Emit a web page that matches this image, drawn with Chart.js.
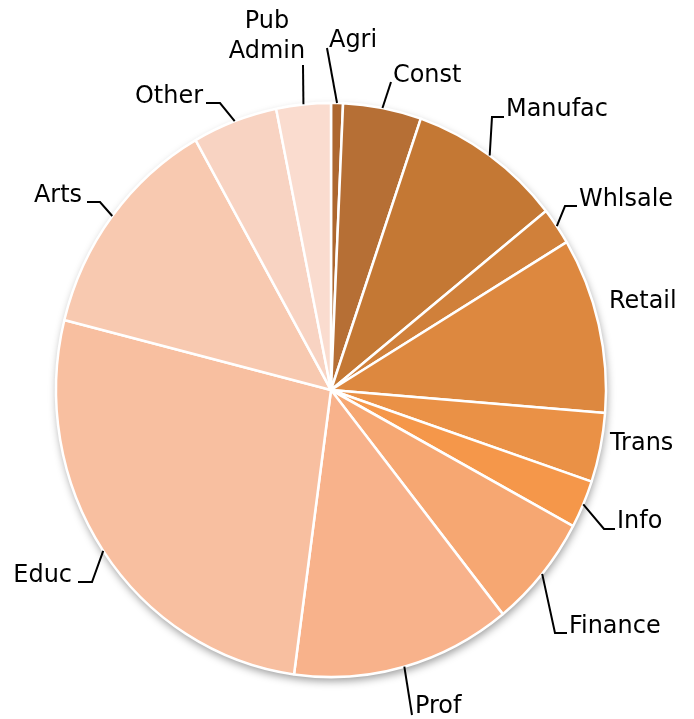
<!DOCTYPE html>
<html>
<head>
<meta charset="utf-8">
<script src="https://cdn.jsdelivr.net/npm/chart.js@4/dist/chart.umd.min.js"></script>
<style>
  html, body { margin: 0; padding: 0; background: #fff; }
  #wrap { position: relative; width: 694px; height: 719px; }
</style>
</head>
<body>
<div id="wrap"><canvas id="pie" width="694" height="719"></canvas></div>
<script>
// Employment share by industry (%), clockwise from 12 o'clock.
const industries = ["Agri", "Const", "Manufac", "Whlsale", "Retail", "Trans", "Info",
                    "Finance", "Prof", "Educ", "Arts", "Other", "Pub Admin"];
const shares = [0.7, 4.6, 9.0, 2.1, 9.9, 3.9, 2.7, 6.4, 12.9, 26.8, 12.9, 5.0, 3.2];

// Dark brown through orange to pale peach.
const sliceColors = ["#ad672f", "#b66f35", "#c47834", "#d0803a", "#dd883f", "#ea9146",
                     "#f5974a", "#f6a772", "#f8b28b", "#f8bfa0", "#f8c9b0", "#f8d3c2", "#fadccf"];

// Label placement: text anchor + leader-line bend (null = no leader).
const labelLayout = {
  "Agri":      { x: 329, y: 47,  align: "left",  path: [[327, 48]] },
  "Const":     { x: 393, y: 82,  align: "left",  path: [[391, 82]] },
  "Manufac":   { x: 506, y: 116, align: "left",  path: [[492, 117], [504, 117]] },
  "Whlsale":   { x: 579, y: 206, align: "left",  path: [[565, 206], [577, 206]] },
  "Retail":    { x: 609, y: 308, align: "left",  path: null },
  "Trans":     { x: 610, y: 450, align: "left",  path: null },
  "Info":      { x: 617, y: 528, align: "left",  path: [[604, 529], [615, 529]] },
  "Finance":   { x: 569, y: 633, align: "left",  path: [[555, 633], [567, 633]] },
  "Prof":      { x: 415, y: 713, align: "left",  path: [[412, 715]] },
  "Educ":      { x: 72,  y: 582, align: "right", path: [[92, 582], [78, 582]] },
  "Arts":      { x: 82,  y: 202, align: "right", path: [[100, 202], [87, 202]] },
  "Other":     { x: 203, y: 103, align: "right", path: [[220, 103], [206, 103]] },
  "Pub Admin": { x: 267, y: 28,  align: "center", lines: ["Pub", "Admin"], path: [[303, 65]] },
};

// The whole chart is a bit narrower than tall: pie is an ellipse and
// the label glyphs are squeezed by the same amount.
const STRETCH_Y = 1.044;
const TEXT_SQUEEZE = 1 / STRETCH_Y;

// Squash the arcs into a tall ellipse and lay a soft shadow underneath.
const ellipsePie = {
  id: "ellipsePie",
  beforeDatasetsDraw(chart) {
    const arc = chart.getDatasetMeta(0).data[0];
    const { x, y, outerRadius } = arc.getProps(["x", "y", "outerRadius"], true);
    const ctx = chart.ctx;
    ctx.save();
    ctx.save();
    ctx.shadowColor = "rgba(0,0,0,0.4)";
    ctx.shadowBlur = 8;
    ctx.shadowOffsetY = 4;
    ctx.shadowOffsetX = 1;
    ctx.fillStyle = "#fff";
    ctx.beginPath();
    ctx.ellipse(x, y, outerRadius, outerRadius * STRETCH_Y, 0, 0, Math.PI * 2);
    ctx.fill();
    ctx.restore();
    ctx.translate(x, y);
    ctx.scale(1, STRETCH_Y);
    ctx.translate(-x, -y);
  },
  afterDatasetsDraw(chart) {
    chart.ctx.restore();
  }
};

// Category labels with leader lines running out from each slice's middle.
const pieLabels = {
  id: "pieLabels",
  afterDraw(chart) {
    const ctx = chart.ctx;
    const meta = chart.getDatasetMeta(0);
    ctx.save();
    ctx.font = "25px 'DejaVu Sans', Verdana, sans-serif";
    ctx.fillStyle = "#000";
    ctx.strokeStyle = "#000";
    ctx.lineWidth = 2;
    ctx.textBaseline = "alphabetic";
    meta.data.forEach((arc, i) => {
      const name = industries[i];
      const lay = labelLayout[name];
      const { x, y, startAngle, endAngle, outerRadius } =
        arc.getProps(["x", "y", "startAngle", "endAngle", "outerRadius"], true);
      if (lay.path) {
        const mid = (startAngle + endAngle) / 2;
        const ex = x + Math.cos(mid) * outerRadius;
        const ey = y + Math.sin(mid) * outerRadius * STRETCH_Y;
        ctx.beginPath();
        ctx.moveTo(ex, ey);
        lay.path.forEach(p => ctx.lineTo(p[0], p[1]));
        ctx.stroke();
      }
      ctx.textAlign = lay.align;
      const lines = lay.lines || [name];
      lines.forEach((t, k) => {
        ctx.save();
        ctx.translate(lay.x, lay.y + k * 30);
        ctx.scale(TEXT_SQUEEZE, 1);
        ctx.fillText(t, 0, 0);
        ctx.restore();
      });
    });
    ctx.restore();
  }
};

new Chart(document.getElementById("pie"), {
  type: "pie",
  data: {
    labels: industries,
    datasets: [{
      data: shares,
      backgroundColor: sliceColors,
      borderColor: "#fff",
      borderWidth: 2.5,
    }]
  },
  options: {
    responsive: false,
    animation: false,
    radius: 275,
    rotation: 0,
    layout: { padding: { left: 56, right: 88, top: 115, bottom: 54 } },
    plugins: { legend: { display: false }, tooltip: { enabled: false } },
  },
  plugins: [ellipsePie, pieLabels]
});
</script>
</body>
</html>
